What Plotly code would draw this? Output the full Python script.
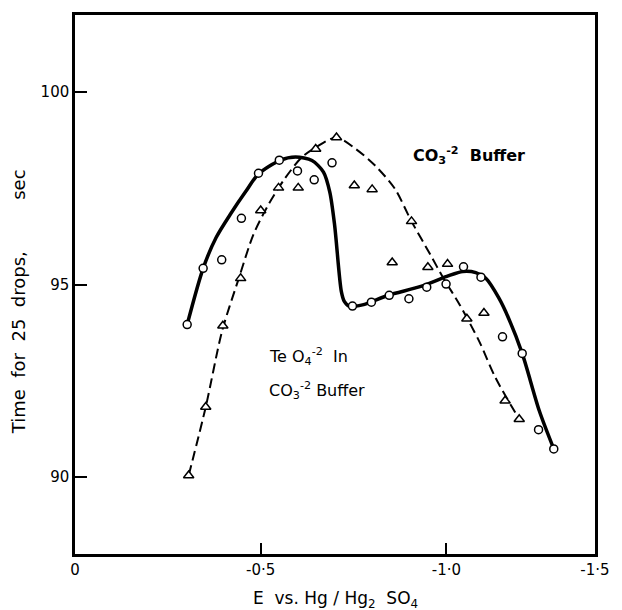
import plotly.graph_objects as go

# Open circles: TeO4(-2) in CO3(-2) buffer
circle_e = [-0.302, -0.345, -0.395, -0.448, -0.494, -0.550, -0.599, -0.644, -0.692,
            -0.747, -0.798, -0.846, -0.899, -0.947, -0.999, -1.046, -1.093, -1.151,
            -1.204, -1.248, -1.289]
circle_t = [93.96, 95.42, 95.64, 96.72, 97.89, 98.23, 97.95, 97.72, 98.16,
            94.44, 94.54, 94.72, 94.63, 94.93, 95.01, 95.46, 95.19, 93.64,
            93.21, 91.23, 90.73]

# Open triangles: CO3(-2) buffer
tri_e = [-0.306, -0.352, -0.398, -0.446, -0.500, -0.548, -0.601, -0.648, -0.704,
         -0.752, -0.800, -0.854, -0.906, -0.950, -1.003, -1.055, -1.101, -1.158, -1.196]
tri_t = [90.04, 91.82, 93.93, 95.16, 96.92, 97.51, 97.51, 98.52, 98.82,
         97.57, 97.47, 95.57, 96.64, 95.45, 95.53, 94.11, 94.26, 91.98, 91.50]

# Hand-drawn solid curve (circles)
solid_e = [-0.302, -0.345, -0.380, -0.420, -0.460, -0.494, -0.551, -0.594, -0.638,
           -0.669, -0.686, -0.699, -0.717, -0.725, -0.739, -0.774, -0.843, -0.931,
           -1.001, -1.044, -1.079, -1.106, -1.141, -1.167, -1.204, -1.250, -1.289]
solid_t = [93.96, 95.42, 96.22, 96.85, 97.42, 97.87, 98.22, 98.31, 98.22,
           97.92, 97.40, 96.54, 94.82, 94.56, 94.43, 94.47, 94.72, 94.95,
           95.21, 95.34, 95.31, 95.16, 94.65, 94.13, 93.21, 91.72, 90.73]

# Hand-drawn dashed curve (triangles)
dashed_e = [-0.306, -0.352, -0.396, -0.441, -0.480, -0.517, -0.564, -0.611, -0.648,
            -0.704, -0.756, -0.808, -0.861, -0.906, -0.957, -0.992, -1.036, -1.088,
            -1.132, -1.196]
dashed_t = [90.04, 91.82, 93.79, 95.16, 96.29, 97.01, 97.74, 98.31, 98.56,
            98.82, 98.52, 98.09, 97.49, 96.64, 95.77, 95.16, 94.47, 93.53,
            92.58, 91.50]

x_tickvals = [0, -0.5, -1.0, -1.4]
x_ticktext = ["0", "-0·5", "-1·0", "-1·5"]
y_tickvals = [90, 95, 100]
y_ticktext = ["90", "95", "100"]

FONT = "DejaVu Sans"

fig = go.Figure()
fig.add_trace(go.Scatter(x=dashed_e, y=dashed_t, mode="lines",
                         line=dict(color="black", width=2, dash="10px,5px",
                                   shape="spline", smoothing=0.8),
                         showlegend=False, hoverinfo="skip"))
fig.add_trace(go.Scatter(x=solid_e, y=solid_t, mode="lines",
                         line=dict(color="black", width=3.5, shape="spline", smoothing=0.8),
                         showlegend=False, hoverinfo="skip"))
fig.add_trace(go.Scatter(x=tri_e, y=tri_t, mode="markers",
                         marker=dict(symbol="triangle-up", size=9, color="white",
                                     line=dict(color="black", width=1.5)),
                         showlegend=False))
fig.add_trace(go.Scatter(x=circle_e, y=circle_t, mode="markers",
                         marker=dict(symbol="circle", size=8, color="white",
                                     line=dict(color="black", width=1.5)),
                         showlegend=False))

fig.update_layout(
    width=622, height=610,
    margin=dict(l=75, r=13, t=12, b=56),
    paper_bgcolor="white", plot_bgcolor="white",
    font=dict(family=FONT, size=15, color="black"),
    xaxis=dict(range=[0, -1.4], tickvals=x_tickvals, ticktext=x_ticktext,
               ticks="inside", ticklen=11, tickwidth=2, tickcolor="black",
               showline=True, linecolor="black", linewidth=2.5, mirror=True,
               showgrid=False, zeroline=False, tickfont=dict(size=15)),
    yaxis=dict(range=[88, 102], tickvals=y_tickvals, ticktext=y_ticktext,
               ticks="inside", ticklen=12, tickwidth=2, tickcolor="black",
               showline=True, linecolor="black", linewidth=2.5, mirror=True,
               showgrid=False, zeroline=False, tickfont=dict(size=15)),
)

NB = "\u00a0"
fig.add_annotation(xref="paper", yref="paper", x=0.5, y=-0.085,
                   text=f"E{NB}{NB}vs.{NB}Hg{NB}/{NB}Hg<sub>2</sub>{NB}{NB}SO<sub>4</sub>",
                   showarrow=False, font=dict(size=17), xanchor="center", yanchor="middle")
fig.add_annotation(xref="paper", yref="paper", x=-0.108, y=0.4686, textangle=-90,
                   text=f"Time{NB}{NB}for{NB}{NB}25{NB}{NB}drops,{NB*9}sec",
                   showarrow=False, font=dict(size=18), xanchor="center", yanchor="middle")
fig.add_annotation(x=-1.062, y=98.36, xref="x", yref="y",
                   text=f"<b>CO<sub>3</sub><sup>-2</sup>{NB}{NB}Buffer</b>",
                   showarrow=False, font=dict(size=16), xanchor="center", yanchor="middle")
fig.add_annotation(x=-0.516, y=93.14, xref="x", yref="y",
                   text=f"Te{NB}O<sub>4</sub><sup>-2</sup>{NB}{NB}In",
                   showarrow=False, font=dict(size=16), xanchor="left", yanchor="middle")
fig.add_annotation(x=-0.516, y=92.24, xref="x", yref="y",
                   text=f"CO<sub>3</sub><sup>-2</sup>{NB}Buffer",
                   showarrow=False, font=dict(size=16), xanchor="left", yanchor="middle")

fig.write_html("out.html")
